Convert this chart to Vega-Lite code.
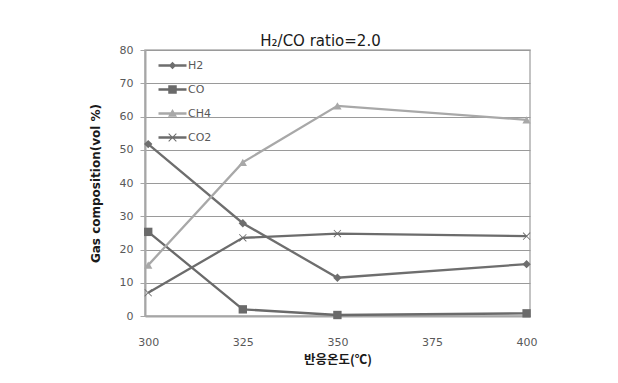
{
  "$schema": "https://vega.github.io/schema/vega-lite/v6.json",
  "width": 385,
  "height": 266,
  "autosize": {"type": "none"},
  "padding": {"left": 145, "top": 50, "right": 88, "bottom": 67},
  "background": "white",
  "title": {
    "text": "H₂/CO ratio=2.0",
    "font": "DejaVu Sans",
    "fontSize": 15,
    "fontWeight": "normal",
    "color": "#1a1a1a",
    "anchor": "middle",
    "dx": -17,
    "offset": -5
  },
  "data": {
    "values": [
      {"temp": 300, "value": 51.7, "series": "H2", "marker": "H2"},
      {"temp": 325, "value": 27.9, "series": "H2", "marker": "H2"},
      {"temp": 350, "value": 11.5, "series": "H2", "marker": "H2"},
      {"temp": 400, "value": 15.6, "series": "H2", "marker": "H2"},
      {"temp": 300, "value": 25.3, "series": "CO", "marker": "CO"},
      {"temp": 325, "value": 2.0, "series": "CO", "marker": "CO"},
      {"temp": 350, "value": 0.3, "series": "CO", "marker": "CO"},
      {"temp": 400, "value": 0.8, "series": "CO", "marker": "CO"},
      {"temp": 300, "value": 15.3, "series": "CH4", "marker": "CH4"},
      {"temp": 325, "value": 46.2, "series": "CH4", "marker": "CH4"},
      {"temp": 350, "value": 63.2, "series": "CH4", "marker": "CH4"},
      {"temp": 400, "value": 59.0, "series": "CH4", "marker": "CH4"},
      {"temp": 300, "value": 7.0, "series": "CO2", "marker": "CO2"},
      {"temp": 325, "value": 23.5, "series": "CO2", "marker": "CO2"},
      {"temp": 350, "value": 24.8, "series": "CO2", "marker": "CO2"},
      {"temp": 400, "value": 24.0, "series": "CO2", "marker": "CO2"}
    ]
  },
  "encoding": {
    "x": {
      "field": "temp",
      "type": "quantitative",
      "scale": {"domain": [299.15, 400.9], "nice": false, "zero": false},
      "axis": {
        "title": "반응온도(℃)",
        "titleFont": "Noto Sans CJK KR",
        "titleFontSize": 12.5,
        "titleFontWeight": "bold",
        "titleColor": "#1a1a1a",
        "titlePadding": 6,
        "values": [300, 325, 350, 375, 400],
        "labelFont": "DejaVu Sans",
        "labelFontSize": 11,
        "labelColor": "#595959",
        "labelPadding": 20,
        "ticks": false,
        "grid": false,
        "domainColor": "#a6a6a6",
        "domainWidth": 2
      }
    },
    "y": {
      "field": "value",
      "type": "quantitative",
      "scale": {"domain": [0, 80], "nice": false},
      "axis": {
        "title": "Gas composition(vol %)",
        "titleFont": "DejaVu Sans",
        "titleFontSize": 12,
        "titleFontWeight": "bold",
        "titleColor": "#1a1a1a",
        "titlePadding": 17,
        "values": [0, 10, 20, 30, 40, 50, 60, 70, 80],
        "labelFont": "DejaVu Sans",
        "labelFontSize": 11,
        "labelColor": "#595959",
        "labelPadding": 7,
        "tickSize": 5,
        "tickColor": "#a6a6a6",
        "domainColor": "#a6a6a6",
        "domainWidth": 2,
        "gridColor": "#9a9a9a",
        "gridWidth": 1
      }
    }
  },
  "layer": [
    {
      "mark": {"type": "line", "strokeWidth": 2.3},
      "encoding": {
        "stroke": {
          "field": "series",
          "type": "nominal",
          "scale": {
            "domain": ["H2", "CO", "CH4", "CO2"],
            "range": ["#6e6e6e", "#6a6a6a", "#a8a8a8", "#6c6c6c"]
          }
        }
      }
    },
    {
      "mark": {"type": "point", "filled": true, "opacity": 1, "strokeWidth": 0},
      "encoding": {
        "color": {
          "field": "series",
          "type": "nominal",
          "scale": {
            "domain": ["H2", "CO", "CH4", "CO2"],
            "range": ["#6e6e6e", "#6a6a6a", "#a8a8a8", "#6c6c6c"]
          },
          "legend": {
            "title": null,
            "orient": "none",
            "legendX": 12,
            "legendY": 10,
            "symbolSize": 100,
            "symbolOffset": 10,
            "symbolStrokeWidth": 0,
            "labelOffset": 10,
            "rowPadding": 12,
            "labelFont": "DejaVu Sans",
            "labelFontSize": 11,
            "labelColor": "#595959",
            "symbolType": {
              "expr": "datum.value === 'H2' ? 'M-2.8,-0.24H2.8V0.24H-2.8ZM0,-0.75L0.75,0L0,0.75L-0.75,0Z' : datum.value === 'CO' ? 'M-2.8,-0.24H2.8V0.24H-2.8ZM-0.85,-0.85H0.85V0.85H-0.85Z' : datum.value === 'CH4' ? 'M-2.8,-0.24H2.8V0.24H-2.8ZM0,-0.9L0.9,0.65L-0.9,0.65Z' : 'M-2.8,-0.24H2.8V0.24H-2.8ZM0.7,-0.84L0.84,-0.7L0.14,0L0.84,0.7L0.7,0.84L0,0.14L-0.7,0.84L-0.84,0.7L-0.14,0L-0.84,-0.7L-0.7,-0.84L0,-0.14Z'"
            }
          }
        },
        "shape": {
          "field": "marker",
          "type": "nominal",
          "scale": {
            "range": [
              "triangle-up",
              "square",
              "M0.778,-0.919L0.919,-0.778L0.141,0L0.919,0.778L0.778,0.919L0,0.141L-0.778,0.919L-0.919,0.778L-0.141,0L-0.919,-0.778L-0.778,-0.919L0,-0.141Z",
              "diamond"
            ]
          },
          "legend": null
        },
        "size": {"value": 70}
      }
    }
  ],
  "config": {
    "view": {"stroke": "#b0b0b0", "strokeWidth": 1.5}
  }
}
